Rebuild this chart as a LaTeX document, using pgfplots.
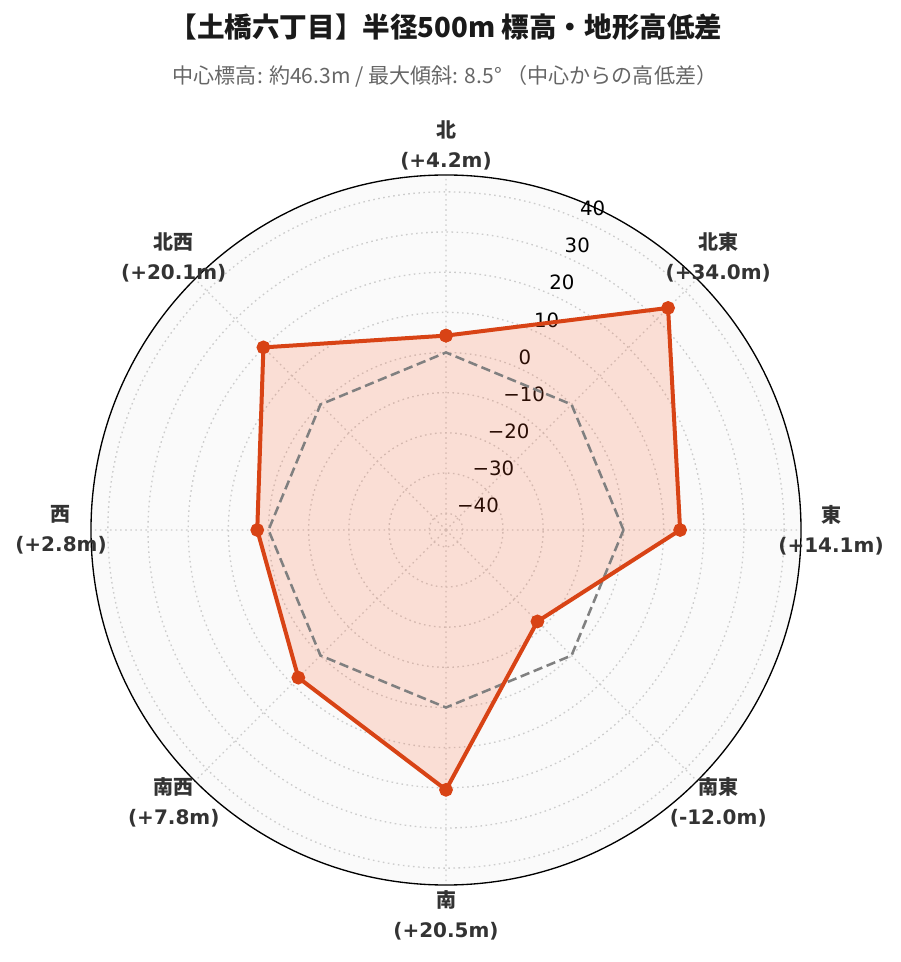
\documentclass[border=0pt]{standalone}
\usepackage{fontspec}
\setmainfont{DejaVu Sans}
\newfontfamily\cjk{Noto Sans CJK JP}
\usepackage{pgfplots}
\pgfplotsset{compat=1.18}
\usepgfplotslibrary{polar}
\definecolor{lineC}{HTML}{D84315}
\definecolor{fillC}{HTML}{FF5722}
\definecolor{bgC}{HTML}{FAFAFA}
\definecolor{labC}{HTML}{333333}
\definecolor{subC}{HTML}{666666}
\definecolor{titC}{HTML}{1A1A1A}
\newcommand{\lab}[2]{{\cjk\bfseries #1}\\\bfseries #2}
\begin{document}
\begin{tikzpicture}[x=0.75pt,y=0.75pt]
\path[use as bounding box] (0,0) rectangle (900,962);
\node[text=titC, font=\cjk\bfseries\fontsize{20.7}{20.7}\selectfont] at (446,935) {【土橋六丁目】半径500m 標高・地形高低差};
\node[text=subC, font=\cjk\fontsize{15.8}{15.8}\selectfont] at (445,886) {中心標高: 約46.3m / 最大傾斜: 8.5° （中心からの高低差）};
\begin{polaraxis}[
  at={(334.5pt,324pt)}, anchor=center,
  scale only axis, width=532.5pt, height=532.5pt,
  ymin=0, ymax=88.4,
  xtick={0,45,...,315},
  ytick={4.2,14.2,24.2,34.2,44.2,54.2,64.2,74.2,84.2},
  xticklabels={}, yticklabels={},
  major tick length=0pt,
  grid=major,
  major grid style={black!20, line width=1pt, dash pattern=on 1.2pt off 2.6pt},
  separate axis lines,
  x axis line style={black, line width=1pt},
  y axis line style={draw=none},
  axis background/.style={fill=bgC},
  clip=false,
]
% radial tick labels
\foreach \r/\t in {4.2/−40,14.2/−30,24.2/−20,34.2/−10,44.2/0,54.2/10,64.2/20,74.2/30,84.2/40}{
  \edef\tmp{\noexpand\node[anchor=west, yshift=6.75pt, font=\noexpand\fontsize{14.8}{14.8}\noexpand\selectfont] at (axis cs:67.5,\r) {\t};}
  \tmp
}
% data fill (value + 44.2)
\addplot[draw=none, fill=fillC, fill opacity=0.17, no markers] coordinates {
(90,48.4) (45,78.2) (0,58.3) (-45,32.2) (-90,64.7) (-135,52.0) (-180,47.0) (-225,64.3) (-270,48.4)};
% zero reference
\addplot[black!50, line width=1.9pt, dash pattern=on 7pt off 3.5pt, no markers] coordinates {
(0,44.2) (45,44.2) (90,44.2) (135,44.2) (180,44.2) (225,44.2) (270,44.2) (315,44.2) (360,44.2)};
% data line
\addplot[lineC, line width=3pt, mark=*, mark size=3.6pt, mark options={fill=lineC}] coordinates {
(90,48.4) (45,78.2) (0,58.3) (-45,32.2) (-90,64.7) (-135,52.0) (-180,47.0) (-225,64.3) (-270,48.4)};
% angle labels
\tikzset{al/.style={align=center, text=labC, font=\fontsize{15}{22.5}\selectfont}}
\node[al] at (axis cs:90,95.87) {\lab{北}{(+4.2m)}};
\node[al] at (axis cs:45,95.87) {\lab{北東}{(+34.0m)}};
\node[al] at (axis cs:0,95.87) {\lab{東}{(+14.1m)}};
\node[al] at (axis cs:-45,95.87) {\lab{南東}{(-12.0m)}};
\node[al] at (axis cs:-90,95.87) {\lab{南}{(+20.5m)}};
\node[al] at (axis cs:-135,95.87) {\lab{南西}{(+7.8m)}};
\node[al] at (axis cs:180,95.87) {\lab{西}{(+2.8m)}};
\node[al] at (axis cs:135,95.87) {\lab{北西}{(+20.1m)}};
\end{polaraxis}
\end{tikzpicture}
\end{document}
